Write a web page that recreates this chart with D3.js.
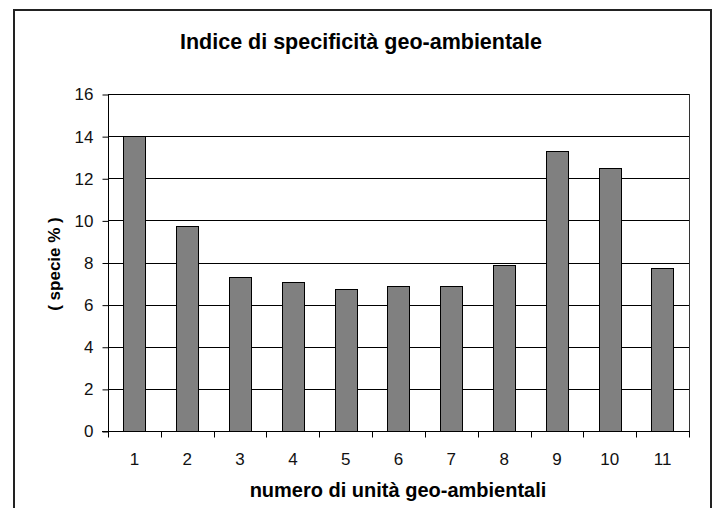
<!DOCTYPE html>
<html>
<head>
<meta charset="utf-8">
<script src="https://cdn.jsdelivr.net/npm/d3@7"></script>
<style>
  body { margin: 0; background: #fff; }
  text { font-family: "Liberation Sans", Arial, sans-serif; }
</style>
</head>
<body>
<div id="chart"></div>
<script>
let categories = ["1", "2", "3", "4", "5", "6", "7", "8", "9", "10", "11"];
let values = [14.0, 9.73, 7.3, 7.09, 6.76, 6.9, 6.9, 7.88, 13.3, 12.5, 7.75];
let yTicks = [0, 2, 4, 6, 8, 10, 12, 14, 16];

let width = 712, height = 508;
let margin = { "top": 94, "bottom": 77, "right": 23, "left": 108 };

let svg = d3.select('#chart').append('svg').attr('width', width).attr('height', height);

// outer chart border
svg.append('rect')
    .attr('x', 14).attr('y', 10)
    .attr('width', 697).attr('height', 510)
    .attr('fill', 'white')
    .attr('stroke', '#222')
    .attr('stroke-width', 2);

let xScale = d3.scaleBand()
    .domain(categories)
    .range([margin.left, width - margin.right]);
let yScale = d3.scaleLinear()
    .domain([0, 16])
    .range([height - margin.bottom, margin.top]);

// gridlines
svg.append('g')
    .selectAll('line')
    .data(yTicks.slice(1))
    .enter()
    .append('line')
    .attr('x1', margin.left).attr('x2', width - margin.right)
    .attr('y1', function(d) { return Math.round(yScale(d)) + 0.5; })
    .attr('y2', function(d) { return Math.round(yScale(d)) + 0.5; })
    .attr('stroke', '#000')
    .attr('stroke-width', 1);

// right edge of plot area
svg.append('line')
    .attr('x1', width - margin.right + 0.5).attr('x2', width - margin.right + 0.5)
    .attr('y1', margin.top).attr('y2', height - margin.bottom)
    .attr('stroke', '#333');

// bars
let bw = xScale.bandwidth() * 0.42;
svg.append('g')
    .selectAll('rect')
    .data(values)
    .enter()
    .append('rect')
    .attr('x', function(d, i) { return Math.round(xScale(categories[i]) + (xScale.bandwidth() - bw) / 2) + 0.5; })
    .attr('y', function(d) { return Math.round(yScale(d)) + 0.5; })
    .attr('width', Math.round(bw))
    .attr('height', function(d) { return Math.round(yScale(0)) - Math.round(yScale(d)); })
    .attr('fill', '#808080')
    .attr('stroke', '#000')
    .attr('stroke-width', 1);

// y axis
let yAxis = d3.axisLeft(yScale)
    .tickValues(yTicks)
    .tickSize(6)
    .tickPadding(9)
    .tickFormat(d3.format('d'));
let gy = svg.append('g')
    .attr('transform', 'translate(' + (margin.left + 0.5) + ',0.5)')
    .call(yAxis);
gy.selectAll('text').attr('font-size', 17).attr('fill', '#111')
    .attr('font-family', '"Liberation Sans", Arial, sans-serif');
gy.selectAll('line').attr('stroke', '#000');
gy.select('.domain').attr('d', 'M0,' + (margin.top - 0.5) + 'V' + (height - margin.bottom - 0.5)).attr('stroke', '#000');

// x axis
let gx = svg.append('g')
    .attr('transform', 'translate(0,' + (Math.round(yScale(0)) + 0.5) + ')');
gx.append('line')
    .attr('x1', margin.left - 6).attr('x2', width - margin.right + 1)
    .attr('stroke', '#000');
gx.selectAll('.xtick')
    .data(categories.concat(['end']))
    .enter()
    .append('line')
    .attr('class', 'xtick')
    .attr('x1', function(d, i) { return Math.round(margin.left + i * xScale.step()) + 0.5; })
    .attr('x2', function(d, i) { return Math.round(margin.left + i * xScale.step()) + 0.5; })
    .attr('y1', 0).attr('y2', 6)
    .attr('stroke', '#000');
gx.selectAll('.xlab')
    .data(categories)
    .enter()
    .append('text')
    .attr('class', 'xlab')
    .attr('x', function(d) { return xScale(d) + xScale.bandwidth() / 2; })
    .attr('y', 33)
    .attr('text-anchor', 'middle')
    .attr('font-size', 17)
    .attr('fill', '#111')
    .text(function(d) { return d; });

// titles
svg.append('text')
    .attr('x', 361).attr('y', 49)
    .attr('text-anchor', 'middle')
    .attr('font-size', 21.5)
    .attr('font-weight', 'bold')
    .text('Indice di specificità geo-ambientale');

svg.append('text')
    .attr('x', 398).attr('y', 497)
    .attr('text-anchor', 'middle')
    .attr('font-size', 20)
    .attr('font-weight', 'bold')
    .text('numero di unità geo-ambientali');

svg.append('text')
    .attr('transform', 'translate(60,264) rotate(-90)')
    .attr('text-anchor', 'middle')
    .attr('font-size', 17)
    .attr('font-weight', 'bold')
    .text('( specie % )');
</script>
</body>
</html>
